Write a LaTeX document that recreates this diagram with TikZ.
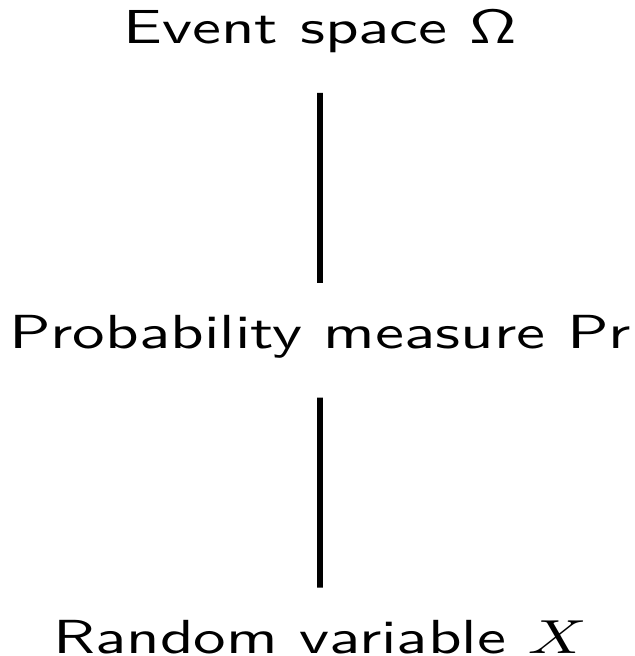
\documentclass[tikz,border=0pt]{standalone}
\usetikzlibrary{positioning}
\begin{document}
\begin{tikzpicture}[x=0.0735mm,y=-0.0735mm,node distance=18.74mm,
    every node/.style={font=\sffamily\fontsize{10}{12}\selectfont,inner sep=0pt,text height=7.5pt,text depth=2.5pt,xscale=1.36,transform shape},
    link/.style={line width=1.25pt,shorten <=2.65mm,shorten >=2.13mm}]
  \useasboundingbox (0,0) rectangle (634,656);
  \node (omega) at (320,32) {Event space $\mathsf{\Omega}$};
  \node[below=of omega] (prob) {Probability measure Pr};
  \node[below=of prob] (rv) {Random variable $X$};
  \draw[link] (omega) -- (prob);
  \draw[link] (prob) -- (rv);
\end{tikzpicture}
\end{document}
